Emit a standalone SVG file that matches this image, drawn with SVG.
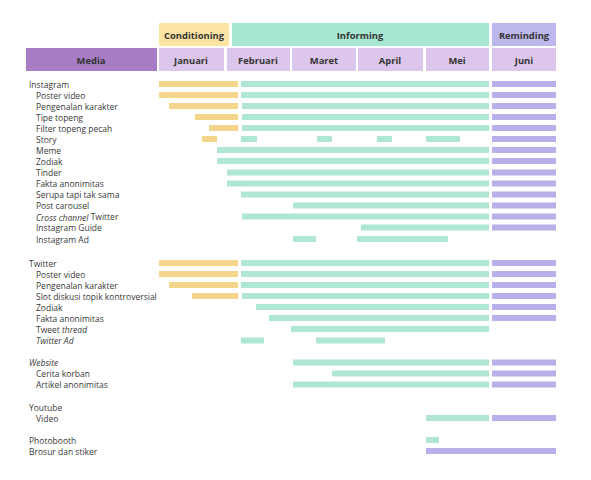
<svg xmlns="http://www.w3.org/2000/svg" width="591" height="480" viewBox="0 0 591 480">
<style>
text{font-family:"Open Sans","Liberation Sans",sans-serif;fill:#333}
.h{font-size:9.4px;font-weight:bold;text-anchor:middle;dominant-baseline:central}
.l{font-size:8.5px;dominant-baseline:central;fill:#3a3a3a}
.i{font-style:italic}
.y{fill:#F3D68C}.g{fill:#B0E6D4}.p{fill:#B8B0E8}
</style>
<rect width="591" height="480" fill="#fff"/>
<g id="header">
<rect x="159" y="23" width="70" height="23" fill="#FBE3A4"/>
<rect x="232" y="23" width="257" height="23" fill="#A6E7D2"/>
<rect x="492" y="23" width="64" height="23" fill="#BDB8EC"/>
<text class="h" x="194" y="35">Conditioning</text>
<text class="h" x="360" y="35">Informing</text>
<text class="h" x="524" y="35">Reminding</text>
<rect x="26" y="48" width="131" height="23" fill="#A97DC6"/>
<rect x="159" y="48" width="65" height="23" fill="#DCC6EC"/>
<rect x="227" y="48" width="63" height="23" fill="#DCC6EC"/>
<rect x="292" y="48" width="64" height="23" fill="#DCC6EC"/>
<rect x="358" y="48" width="65" height="23" fill="#DCC6EC"/>
<rect x="426" y="48" width="63" height="23" fill="#DCC6EC"/>
<rect x="492" y="48" width="64" height="23" fill="#DCC6EC"/>
<text class="h" x="91" y="60">Media</text>
<text class="h" x="191" y="60">Januari</text>
<text class="h" x="258" y="60">Februari</text>
<text class="h" x="324" y="60">Maret</text>
<text class="h" x="390" y="60">April</text>
<text class="h" x="457" y="60">Mei</text>
<text class="h" x="524" y="60">Juni</text>
</g>
<g id="instagram">
<text class="l" x="29" y="84">Instagram</text>
<rect class="y" x="159" y="81" width="79" height="6"/><rect class="g" x="241" y="81" width="248" height="6"/><rect class="p" x="492" y="81" width="64" height="6"/>
</g>
<g id="ig-poster">
<text class="l" x="36" y="95">Poster video</text>
<rect class="y" x="159" y="92" width="79" height="6"/><rect class="g" x="241" y="92" width="248" height="6"/><rect class="p" x="492" y="92" width="64" height="6"/>
</g>
<g id="ig-karakter">
<text class="l" x="36" y="106">Pengenalan karakter</text>
<rect class="y" x="169" y="103" width="69" height="6"/><rect class="g" x="242" y="103" width="247" height="6"/><rect class="p" x="492" y="103" width="64" height="6"/>
</g>
<g id="ig-tipe">
<text class="l" x="36" y="117">Tipe topeng</text>
<rect class="y" x="195" y="114" width="43" height="6"/><rect class="g" x="242" y="114" width="247" height="6"/><rect class="p" x="492" y="114" width="64" height="6"/>
</g>
<g id="ig-filter">
<text class="l" x="36" y="128">Filter topeng pecah</text>
<rect class="y" x="209" y="125" width="29" height="6"/><rect class="g" x="242" y="125" width="247" height="6"/><rect class="p" x="492" y="125" width="64" height="6"/>
</g>
<g id="ig-story">
<text class="l" x="36" y="139">Story</text>
<rect class="y" x="202" y="136" width="15" height="6"/><rect class="g" x="241" y="136" width="16" height="6"/><rect class="g" x="317" y="136" width="15" height="6"/><rect class="g" x="377" y="136" width="15" height="6"/><rect class="g" x="426" y="136" width="34" height="6"/><rect class="p" x="492" y="136" width="64" height="6"/>
</g>
<g id="ig-meme">
<text class="l" x="36" y="150">Meme</text>
<rect class="g" x="217" y="147" width="272" height="6"/><rect class="p" x="492" y="147" width="64" height="6"/>
</g>
<g id="ig-zodiak">
<text class="l" x="36" y="161">Zodiak</text>
<rect class="g" x="217" y="158" width="272" height="6"/><rect class="p" x="492" y="158" width="64" height="6"/>
</g>
<g id="ig-tinder">
<text class="l" x="36" y="172.5">Tinder</text>
<rect class="g" x="227" y="169.5" width="262" height="6"/><rect class="p" x="492" y="169.5" width="64" height="6"/>
</g>
<g id="ig-fakta">
<text class="l" x="36" y="183.5">Fakta anonimitas</text>
<rect class="g" x="227" y="180.5" width="262" height="6"/><rect class="p" x="492" y="180.5" width="64" height="6"/>
</g>
<g id="ig-serupa">
<text class="l" x="36" y="194.5">Serupa tapi tak sama</text>
<rect class="g" x="241" y="191.5" width="248" height="6"/><rect class="p" x="492" y="191.5" width="64" height="6"/>
</g>
<g id="ig-carousel">
<text class="l" x="36" y="205.5">Post carousel</text>
<rect class="g" x="293" y="202.5" width="196" height="6"/><rect class="p" x="492" y="202.5" width="64" height="6"/>
</g>
<g id="ig-cross">
<text class="l" x="36" y="216.5"><tspan class="i">Cross channel</tspan> Twitter</text>
<rect class="g" x="242" y="213.5" width="247" height="6"/><rect class="p" x="492" y="213.5" width="64" height="6"/>
</g>
<g id="ig-guide">
<text class="l" x="36" y="227.5">Instagram Guide</text>
<rect class="g" x="361" y="224.5" width="128" height="6"/><rect class="p" x="492" y="224.5" width="64" height="6"/>
</g>
<g id="ig-ad">
<text class="l" x="36" y="239">Instagram Ad</text>
<rect class="g" x="293" y="236" width="23" height="6"/><rect class="g" x="357" y="236" width="91" height="6"/>
</g>
<g id="twitter">
<text class="l" x="29" y="263">Twitter</text>
<rect class="y" x="159" y="260" width="79" height="6"/><rect class="g" x="241" y="260" width="248" height="6"/><rect class="p" x="492" y="260" width="64" height="6"/>
</g>
<g id="tw-poster">
<text class="l" x="36" y="274">Poster video</text>
<rect class="y" x="159" y="271" width="79" height="6"/><rect class="g" x="241" y="271" width="248" height="6"/><rect class="p" x="492" y="271" width="64" height="6"/>
</g>
<g id="tw-karakter">
<text class="l" x="36" y="285">Pengenalan karakter</text>
<rect class="y" x="169" y="282" width="69" height="6"/><rect class="g" x="241" y="282" width="248" height="6"/><rect class="p" x="492" y="282" width="64" height="6"/>
</g>
<g id="tw-slot">
<text class="l" x="36" y="296">Slot diskusi topik kontroversial</text>
<rect class="y" x="192" y="293" width="46" height="6"/><rect class="g" x="242" y="293" width="247" height="6"/><rect class="p" x="492" y="293" width="64" height="6"/>
</g>
<g id="tw-zodiak">
<text class="l" x="36" y="307">Zodiak</text>
<rect class="g" x="256" y="304" width="233" height="6"/><rect class="p" x="492" y="304" width="64" height="6"/>
</g>
<g id="tw-fakta">
<text class="l" x="36" y="318">Fakta anonimitas</text>
<rect class="g" x="269" y="315" width="220" height="6"/><rect class="p" x="492" y="315" width="64" height="6"/>
</g>
<g id="tw-thread">
<text class="l" x="36" y="329">Tweet <tspan class="i">thread</tspan></text>
<rect class="g" x="291" y="326" width="198" height="6"/>
</g>
<g id="tw-ad">
<text class="l i" x="36" y="340.5">Twitter Ad</text>
<rect class="g" x="241" y="337.5" width="23" height="6"/><rect class="g" x="316" y="337.5" width="69" height="6"/>
</g>
<g id="website">
<text class="l i" x="29" y="362.5">Website</text>
<rect class="g" x="293" y="359.5" width="196" height="6"/><rect class="p" x="492" y="359.5" width="64" height="6"/>
</g>
<g id="web-cerita">
<text class="l" x="36" y="373.5">Cerita korban</text>
<rect class="g" x="332" y="370.5" width="157" height="6"/><rect class="p" x="492" y="370.5" width="64" height="6"/>
</g>
<g id="web-artikel">
<text class="l" x="36" y="384.5">Artikel anonimitas</text>
<rect class="g" x="293" y="381.5" width="196" height="6"/><rect class="p" x="492" y="381.5" width="64" height="6"/>
</g>
<g id="youtube">
<text class="l" x="29" y="407">Youtube</text>
</g>
<g id="yt-video">
<text class="l" x="36" y="418">Video</text>
<rect class="g" x="426" y="415" width="63" height="6"/><rect class="p" x="492" y="415" width="64" height="6"/>
</g>
<g id="photobooth">
<text class="l" x="29" y="440">Photobooth</text>
<rect class="g" x="426" y="437" width="13" height="6"/>
</g>
<g id="brosur">
<text class="l" x="29" y="451">Brosur dan stiker</text>
<rect class="p" x="426" y="448" width="130" height="6"/>
</g>
<g id="connectors"/>
</svg>
